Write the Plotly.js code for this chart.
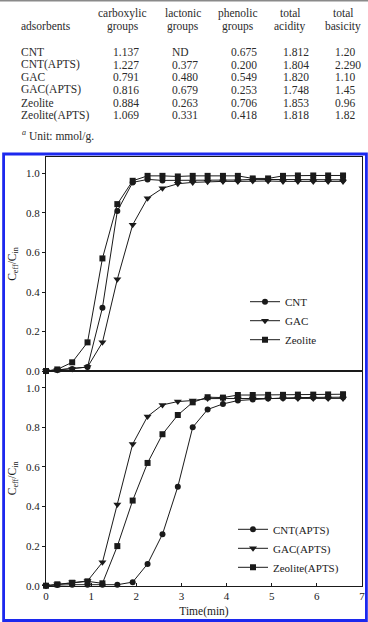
<!DOCTYPE html>
<html>
<head>
<meta charset="utf-8">
<script src="https://cdn.plot.ly/plotly-3.0.1.min.js"></script>
<style>
  html, body { margin: 0; padding: 0; background: #fff; }
  #chart { width: 368px; height: 622px; }
</style>
</head>
<body>
<div id="chart"></div>
<script>
// ---- Table: surface functional groups (mmol/g) ----
const adsorbents     = ['CNT', 'CNT(APTS)', 'GAC', 'GAC(APTS)', 'Zeolite', 'Zeolite(APTS)'];
const carboxylic     = ['1.137', '1.227', '0.791', '0.816', '0.884', '1.069'];
const lactonic       = ['ND', '0.377', '0.480', '0.679', '0.263', '0.331'];
const phenolic       = ['0.675', '0.200', '0.549', '0.253', '0.706', '0.418'];
const totalAcidity   = ['1.812', '1.804', '1.820', '1.748', '1.853', '1.818'];
const totalBasicity  = ['1.20', '2.290', '1.10', '1.45', '0.96', '1.82'];
const headerTop      = ['', 'carboxylic', 'lactonic', 'phenolic', 'total', 'total'];
const headerBottom   = ['adsorbents', 'groups', 'groups', 'groups', 'acidity', 'basicity'];
const footnote       = '<sup><i>a</i></sup> Unit: mmol/g.';

// ---- Breakthrough curves: time (min) and C_eff/C_in ----
const time = [0, 0.25, 0.58, 0.92, 1.25, 1.58, 1.92, 2.25, 2.58, 2.92, 3.25,
              3.58, 3.92, 4.25, 4.58, 4.92, 5.25, 5.58, 5.92, 6.25, 6.58];
const timeTicks = [0, 1, 2, 3, 4, 5, 6, 7];

const cnt     = [0, 0.005, 0.01, 0.02, 0.32, 0.81, 0.955, 0.97, 0.965, 0.965, 0.967,
                 0.967, 0.967, 0.967, 0.97, 0.97, 0.97, 0.97, 0.968, 0.968, 0.968];
const gac     = [0, 0.005, 0.01, 0.02, 0.145, 0.465, 0.74, 0.875, 0.925, 0.948, 0.955,
                 0.958, 0.96, 0.96, 0.962, 0.962, 0.96, 0.96, 0.96, 0.96, 0.96];
const zeolite = [0, 0.008, 0.044, 0.145, 0.57, 0.845, 0.963, 0.988, 0.988, 0.985, 0.988,
                 0.988, 0.988, 0.988, 0.975, 0.975, 0.988, 0.99, 0.99, 0.99, 0.99];

const cntApts     = [0, 0.003, 0.005, 0.005, 0.005, 0.005, 0.018, 0.11, 0.26, 0.5, 0.8,
                     0.89, 0.918, 0.935, 0.94, 0.945, 0.948, 0.95, 0.95, 0.95, 0.952];
const gacApts     = [0, 0.007, 0.018, 0.024, 0.118, 0.41, 0.715, 0.855, 0.913, 0.93, 0.935,
                     0.945, 0.945, 0.945, 0.945, 0.946, 0.946, 0.946, 0.946, 0.946, 0.946];
const zeoliteApts = [0, 0.007, 0.015, 0.022, 0.012, 0.2, 0.43, 0.62, 0.765, 0.862, 0.926,
                     0.952, 0.95, 0.963, 0.963, 0.964, 0.964, 0.965, 0.965, 0.966, 0.967];

const W = 368, H = 622;
const MR = 6;                          // right margin keeps the last time label inside the plot box area
const PW = W - MR;                     // width of the paper coordinate span
const SERIF = '"Liberation Serif", "Times New Roman", serif';
const INK = '#1a1a1a';
const px = v => v / PW;          // page x pixel -> paper fraction
const py = v => 1 - v / H;       // page y pixel -> paper fraction

// ---- table text ----
const annotations = [];
const tableFont = { family: SERIF, size: 11.5, color: '#2b2b2b' };
const headerCenters = [null, 122.5, 183, 237.5, 290, 342.5];
headerTop.forEach((t, i) => {
  if (!t) return;
  annotations.push({ xref: 'paper', yref: 'paper', x: px(headerCenters[i]), y: py(13.5),
    text: t, showarrow: false, xanchor: 'center', yanchor: 'middle', font: tableFont });
});
headerBottom.forEach((t, i) => {
  annotations.push({ xref: 'paper', yref: 'paper',
    x: i === 0 ? px(19) : px(headerCenters[i]), y: py(26),
    text: t, showarrow: false, xanchor: i === 0 ? 'left' : 'center', yanchor: 'middle',
    font: tableFont });
});
const columns = [adsorbents, carboxylic, lactonic, phenolic, totalAcidity, totalBasicity];
const colLeft = [19, 110.5, 169.5, 229, 280.5, 333];
const rowY0 = 52, rowStep = 12.65;
columns.forEach((col, c) => {
  col.forEach((t, r) => {
    annotations.push({ xref: 'paper', yref: 'paper', x: px(colLeft[c]), y: py(rowY0 + r * rowStep),
      text: t, showarrow: false, xanchor: 'left', yanchor: 'middle', font: tableFont });
  });
});
annotations.push({ xref: 'paper', yref: 'paper', x: px(20), y: py(135.5), text: footnote,
  showarrow: false, xanchor: 'left', yanchor: 'middle', font: tableFont });

// ---- traces ----
const lineStyle = { color: INK, width: 1 };
function series(name, y, symbol, size, xa, ya, legend) {
  return {
    type: 'scatter', mode: 'lines+markers', name, x: time, y,
    xaxis: xa, yaxis: ya, legend, cliponaxis: false,
    line: lineStyle,
    marker: { symbol, size, color: INK, line: { width: 0 } }
  };
}
const traces = [
  series('CNT', cnt, 'circle', 6, 'x2', 'y2', 'legend'),
  series('GAC', gac, 'triangle-down', 7, 'x2', 'y2', 'legend'),
  series('Zeolite', zeolite, 'square', 6, 'x2', 'y2', 'legend'),
  series('CNT(APTS)', cntApts, 'circle', 6, 'x', 'y', 'legend2'),
  series('GAC(APTS)', gacApts, 'triangle-down', 7, 'x', 'y', 'legend2'),
  series('Zeolite(APTS)', zeoliteApts, 'square', 6, 'x', 'y', 'legend2')
];

// ---- axes ----
const plotL = 46, plotR = 362;
const topT = 157, midY = 371, botB = 585.7;
const tickFont = { family: SERIF, size: 11, color: INK };
const yTitle = { text: 'C<sub>eff</sub>/C<sub>in</sub>', font: { family: SERIF, size: 11.5, color: INK }, standoff: 7 };
const baseY = {
  dtick: 0.2, tick0: 0, tickformat: '.1f', ticks: 'outside', ticklen: 3, tickwidth: 1,
  tickcolor: INK, showline: true, linecolor: INK, linewidth: 1, mirror: true,
  showgrid: false, zeroline: false, tickfont: tickFont, title: yTitle, automargin: false
};
const layout = {
  width: W, height: H,
  margin: { l: 0, r: MR, t: 0, b: 0, pad: 0 },
  paper_bgcolor: '#fff', plot_bgcolor: 'rgba(0,0,0,0)',
  showlegend: true,
  font: { family: SERIF, color: INK },
  xaxis: {
    domain: [px(plotL), Math.min(1, px(plotR))], range: [0, 7], anchor: 'y',
    tickmode: 'array', tickvals: timeTicks, ticktext: timeTicks.map(String),
    ticks: 'inside', ticklen: 3, tickwidth: 1, tickcolor: INK,
    showline: true, linecolor: INK, linewidth: 1, mirror: true,
    showgrid: false, zeroline: false, tickfont: tickFont, automargin: false,
    ticklabeloverflow: 'allow',
    title: { text: 'Time(min)', font: { family: SERIF, size: 11.5, color: INK }, standoff: 6 }
  },
  yaxis: Object.assign({}, baseY, { domain: [py(botB), py(midY)], range: [0, 1.0843], anchor: 'x' }),
  xaxis2: {
    domain: [px(plotL), Math.min(1, px(plotR))], range: [0, 7], anchor: 'y2', dtick: 1,
    ticks: '', showticklabels: false,
    showline: true, linecolor: INK, linewidth: 1, mirror: true,
    showgrid: false, zeroline: false, automargin: false
  },
  yaxis2: Object.assign({}, baseY, { domain: [py(midY), py(topT)], range: [0, 1.0835], anchor: 'x2' }),
  legend: {
    x: px(245), y: py(320.7), xanchor: 'left', yanchor: 'middle',
    bgcolor: 'rgba(0,0,0,0)', borderwidth: 0,
    font: { family: SERIF, size: 11, color: INK }
  },
  legend2: {
    x: px(233), y: py(548.3), xanchor: 'left', yanchor: 'middle',
    bgcolor: 'rgba(0,0,0,0)', borderwidth: 0,
    font: { family: SERIF, size: 11, color: INK }
  },
  annotations,
  shapes: [
    // rule above the table
    { type: 'line', xref: 'paper', yref: 'paper', x0: 0, x1: px(W), y0: py(0.8), y1: py(0.8),
      line: { color: '#8a8a8a', width: 1.5 } },
    // blue frame around the figure
    { type: 'rect', xref: 'paper', yref: 'paper', layer: 'above',
      x0: px(3.6), x1: px(366.4), y0: py(620.5), y1: py(154),
      line: { color: '#1c28ee', width: 2.8 } }
  ]
};

Plotly.newPlot('chart', traces, layout, { staticPlot: true, displayModeBar: false });
</script>
</body>
</html>
